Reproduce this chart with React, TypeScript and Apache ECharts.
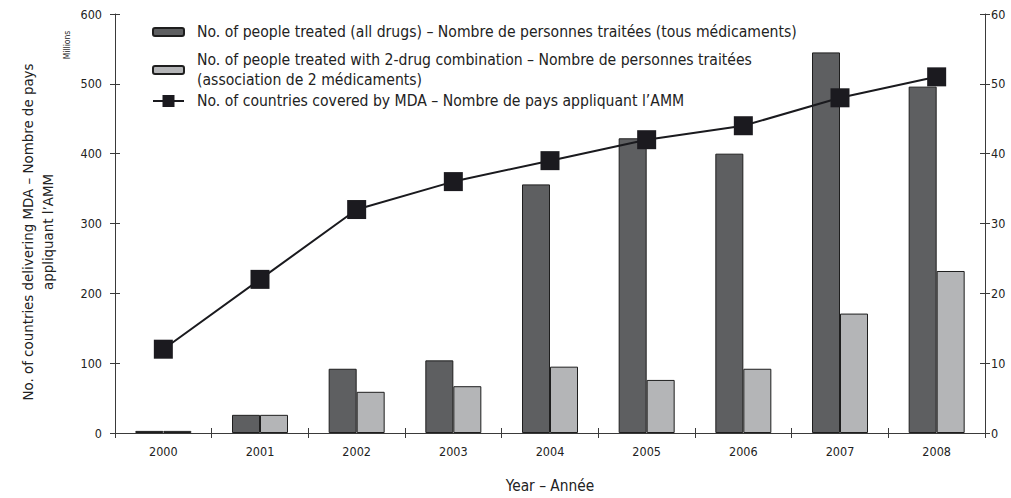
import React, { useEffect, useRef } from "react";
import * as echarts from "echarts";

const years = ["2000", "2001", "2002", "2003", "2004", "2005", "2006", "2007", "2008"];
const treatedAll = [3, 26, 92, 104, 356, 422, 400, 545, 496];
const treatedTwoDrug = [3, 26, 59, 67, 95, 76, 92, 171, 232];
const countries = [12, 22, 32, 36, 39, 42, 44, 48, 51];

const nameAll = "No. of people treated (all drugs) – Nombre de personnes traitées (tous médicaments)";
const nameTwo = "No. of people treated with 2-drug combination – Nombre de personnes traitées\n(association de 2 médicaments)";
const nameCountries = "No. of countries covered by MDA – Nombre de pays appliquant l’AMM";

const FONT = "'DejaVu Sans Condensed', 'Liberation Sans', sans-serif";
const TXT = "#222";
const AX = "#3a3a3a";

export default function App() {
  const ref = useRef<HTMLDivElement>(null);
  useEffect(() => {
    if (!ref.current) return;
    const chart = echarts.init(ref.current, undefined, { renderer: "svg" });
    const grid = { left: 115, right: 26, top: 14, bottom: 65 };
    const legendBase = {
      orient: "vertical" as const,
      left: 152,
      padding: 0,
      selectedMode: false,
      itemWidth: 31,
      itemHeight: 8,
      textStyle: { fontFamily: FONT, fontSize: 15.6, lineHeight: 20, color: TXT, padding: [0, 0, 0, 8] },
    };
    chart.setOption({
      animation: false,
      textStyle: { fontFamily: FONT },
      grid: [grid, grid],
      legend: [
        { ...legendBase, top: 22, data: [nameAll] },
        { ...legendBase, top: 50, data: [nameTwo] },
        { ...legendBase, top: 91, itemHeight: 15, data: [nameCountries] },
      ],
      xAxis: [
        {
          type: "category",
          data: years,
          gridIndex: 0,
          axisLine: { lineStyle: { color: AX, width: 1 } },
          axisTick: { show: true, length: 5, lineStyle: { color: AX } },
          axisLabel: { color: TXT, fontSize: 12.5, margin: 12, fontFamily: FONT },
        },
        {
          type: "category",
          data: years,
          gridIndex: 1,
          axisLine: { show: false },
          axisTick: { show: true, inside: true, length: 5, lineStyle: { color: AX } },
          axisLabel: { show: false },
        },
      ],
      yAxis: [
        {
          type: "value",
          gridIndex: 0,
          position: "left",
          min: 0,
          max: 600,
          interval: 100,
          splitLine: { show: false },
          axisLine: { show: true, lineStyle: { color: AX } },
          axisTick: { show: true, length: 5, lineStyle: { color: AX } },
          axisLabel: { color: TXT, fontSize: 12.5, margin: 13, fontFamily: FONT },
        },
        {
          type: "value",
          gridIndex: 0,
          position: "right",
          min: 0,
          max: 60,
          interval: 10,
          splitLine: { show: false },
          axisLine: { show: true, lineStyle: { color: AX } },
          axisTick: { show: true, length: 5, lineStyle: { color: AX } },
          axisLabel: { color: TXT, fontSize: 12.5, margin: 6, fontFamily: FONT },
        },
        {
          type: "value",
          gridIndex: 1,
          position: "left",
          min: 0,
          max: 600,
          interval: 100,
          splitLine: { show: false },
          axisLine: { show: false },
          axisTick: { show: true, inside: true, length: 5, lineStyle: { color: AX } },
          axisLabel: { show: false },
        },
        {
          type: "value",
          gridIndex: 1,
          position: "right",
          min: 0,
          max: 60,
          interval: 10,
          splitLine: { show: false },
          axisLine: { show: false },
          axisTick: { show: true, inside: true, length: 5, lineStyle: { color: AX } },
          axisLabel: { show: false },
        },
      ],
      series: [
        {
          name: nameAll,
          type: "bar",
          data: treatedAll,
          xAxisIndex: 0,
          yAxisIndex: 0,
          barWidth: 28,
          barGap: "0%",
          itemStyle: { color: "#5e5f61", borderColor: "#1e1e1e", borderWidth: 1 },
        },
        {
          name: nameTwo,
          type: "bar",
          data: treatedTwoDrug,
          xAxisIndex: 0,
          yAxisIndex: 0,
          barWidth: 28,
          barGap: "0%",
          itemStyle: { color: "#b4b5b7", borderColor: "#1e1e1e", borderWidth: 1 },
        },
        {
          name: nameCountries,
          type: "line",
          data: countries,
          xAxisIndex: 0,
          yAxisIndex: 1,
          symbol: "rect",
          symbolSize: 19,
          lineStyle: { color: "#1a1a1e", width: 2 },
          itemStyle: { color: "#1b1a1f" },
          z: 5,
        },
      ],
      graphic: [
        {
          type: "text",
          x: 38,
          y: 232,
          rotation: Math.PI / 2,
          style: {
            text: "No. of countries delivering MDA – Nombre de pays\nappliquant l’AMM",
            fontFamily: FONT,
            fontSize: 14.9,
            lineHeight: 20,
            fill: TXT,
            align: "center",
            verticalAlign: "middle",
          },
        },
        {
          type: "text",
          x: 67,
          y: 45,
          rotation: Math.PI / 2,
          style: {
            text: "Millions",
            fontFamily: FONT,
            fontSize: 8.5,
            fill: TXT,
            align: "center",
            verticalAlign: "middle",
          },
        },
        {
          type: "text",
          x: 550,
          y: 486,
          style: {
            text: "Year – Année",
            fontFamily: FONT,
            fontSize: 15.3,
            fill: TXT,
            align: "center",
            verticalAlign: "middle",
          },
        },
      ],
    });
    return () => chart.dispose();
  }, []);
  return <div ref={ref} style={{ width: 1011, height: 498, position: "absolute", left: 0, top: 0 }} />;
}
